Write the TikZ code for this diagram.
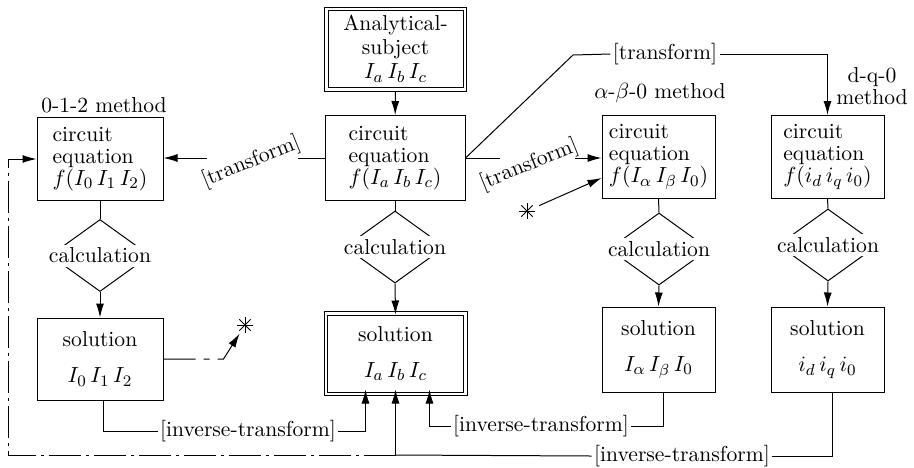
\documentclass[tikz,border=0pt]{standalone}
\usetikzlibrary{arrows.meta,shapes.geometric}
\tikzset{
  box/.style={draw, align=left, inner sep=1pt},
  dbox/.style={draw, align=center, inner sep=1pt},
  solbox/.style={box, align=center},
  calcshape/.style={draw, diamond, minimum width=50pt, minimum height=36pt, inner sep=0pt},
  calctext/.style={fill=white, inner sep=0pt, minimum height=11pt},
  tlabel/.style={inner sep=1pt},
  returnline/.style={dash pattern=on 16pt off 2.5pt on 1.5pt off 2.5pt},
  starmark/.style={minimum size=8pt, inner sep=0pt, path picture={
    \foreach \a in {0,45,90,135}
      \draw (path picture bounding box.center) +(\a:4pt) -- +(\a+180:4pt);}}
}
\newcommand\outerframe[1]{%
  \draw ([shift={(-1.5pt,1.5pt)}]#1.north west) rectangle ([shift={(1.5pt,-1.5pt)}]#1.south east);}
\begin{document}
\begin{tikzpicture}[x=0.5pt, y=-0.5pt, line width=0.5pt,
  >={Latex[length=7pt,width=4pt]},
  font=\fontsize{10.8pt}{11pt}\selectfont]
\path[use as bounding box] (0,0) rectangle (914,467);
% circuit equations
\node[dbox, minimum width=67.5pt, minimum height=38.5pt] (subj) at (395.5,49)
  {Analytical-\\[1pt]subject\\[1pt]$I_a\,I_b\,I_c$};
\outerframe{subj}
\node[box, minimum width=70pt, minimum height=42.5pt] (eqM) at (395,158)
  {circuit\\equation\\$f(I_a\,I_b\,I_c)$};
\node[box, minimum width=63pt, minimum height=41.5pt] (eqL) at (100,159)
  {circuit\\equation\\$f(I_0\,I_1\,I_2)$};
\node[box, minimum width=56.5pt, minimum height=41.5pt] (eqA) at (658.5,157)
  {circuit\\equation\\$f(I_\alpha\,I_\beta\,I_0)$};
\node[box, minimum width=56.5pt, minimum height=41.5pt] (eqD) at (827.5,157)
  {circuit\\equation\\$f(i_d\,i_q\,i_0)$};
\node (m012) at (104,105) {0-1-2 method};
\node (mab) at (660,93) {$\alpha$-$\beta$-0 method};
\node[align=center] (mdq) at (872,86) {d-q-0\\method};
% calculation
\node[calcshape] (calcL) at (100,255.5) {};
\node[calcshape] (calcM) at (395,247) {};
\node[calcshape] (calcA) at (659,249) {};
\node[calcshape] (calcD) at (828,245) {};
\node[calctext] at (calcL) {calculation};
\node[calctext] at (calcM) {calculation};
\node[calctext] at (calcA) {calculation};
\node[calctext] at (calcD) {calculation};
% solutions
\node[solbox, minimum width=63pt, minimum height=41pt] (solL) at (100,359)
  {solution\\[7pt]$I_0\,I_1\,I_2$};
\node[dbox, minimum width=68pt, minimum height=38.5pt] (solM) at (395.5,353.5)
  {solution\\[7pt]$I_a\,I_b\,I_c$};
\outerframe{solM}
\node[solbox, minimum width=56.5pt, minimum height=42.5pt] (solA) at (658.5,349.5)
  {solution\\[7pt]$I_\alpha\,I_\beta\,I_0$};
\node[solbox, minimum width=56.5pt, minimum height=42.5pt] (solD) at (827.5,349.5)
  {solution\\[7pt]$i_d\,i_q\,i_0$};
% vertical flow
\draw[->, shorten <=1.5pt] (subj) -- (eqM);
\foreach \c in {L,M,A,D}{
  \draw (eq\c.south) -- (calc\c.north);
  \draw[->] (calc\c.south) -- (sol\c.north);
}
% transforms
\node[tlabel, rotate=22] (trL) at (251,162) {[transform]};
\node[tlabel, rotate=22] (trR) at (529,165) {[transform]};
\node[tlabel] (trT) at (665,54) {[transform]};
\coordinate (cL1) at (298,158);
\coordinate (cL2) at (207,158);
\coordinate (cR1) at (500,158);
\coordinate (cR2) at (575,158);
\coordinate (bend) at (573,55);
\draw (eqM.west) -- (cL1);
\draw[->] (cL2) -- (cL2 -| eqL.east);
\draw (eqM.east) -- (cR1);
\draw[->] (cR2) -- (cR2 -| eqA.west);
\draw (eqM.east) -- (bend) -- (trT.west);
\draw[->] (trT.east) -| (eqD.north);
% asterisks
\node[starmark] (star1) at (527,211) {};
\node[starmark] (star2) at (245,325) {};
\draw[->, shorten <=2pt] (star1) -- ([yshift=-10.5pt]eqA.west);
\draw[->, dash pattern=on 16pt off 4pt on 3pt off 4pt on 60pt]
  (solL.east) -- ++(30pt,0) -- (star2);
% inverse transforms
\node[tlabel] (trIL) at (248,431) {[inverse-transform]};
\node[tlabel] (trIA) at (541,426) {[inverse-transform]};
\node[tlabel] (trID) at (682,456) {[inverse-transform]};
\coordinate (junc) at (395.5,455);
\coordinate (lc) at (8,455);
\draw ([xshift=1.5pt]solL.south) |- (trIL.west);
\draw[->, shorten >=-1.5pt] (trIL.east) -| ([xshift=-15pt]solM.south);
\draw ([xshift=2.5pt]solA.south) |- (trIA.east);
\draw[->, shorten >=-1.5pt] (trIA.west) -| ([xshift=17pt]solM.south);
\draw ([xshift=2.5pt]solD.south) |- (trID.east);
\draw (trID.west) -- (junc);
\draw[->, shorten >=-1.5pt] (junc) -- (solM.south);
\draw[returnline, ->] (junc) -- (lc) |- (eqL.west);
\end{tikzpicture}
\end{document}
